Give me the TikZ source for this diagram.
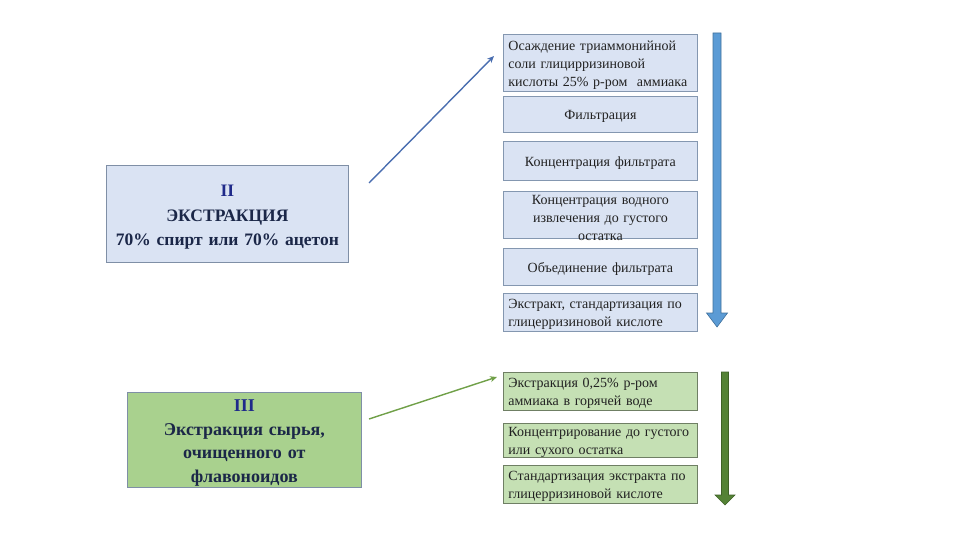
\documentclass[tikz,border=0pt]{standalone}
\usepackage{fontspec}
\setmainfont{Liberation Serif}
\usetikzlibrary{arrows.meta}
\definecolor{fillb}{HTML}{DAE3F3}
\definecolor{bordb}{HTML}{8497B0}
\definecolor{fillg}{HTML}{C5E0B4}
\definecolor{bordg}{HTML}{6F7F64}
\definecolor{fillG}{HTML}{A9D18E}
\definecolor{bordL}{HTML}{7F8FA6}
\definecolor{txt}{HTML}{222222}
\definecolor{navy}{HTML}{1B2748}
\definecolor{roman}{HTML}{1F2A8A}
\definecolor{arrB}{HTML}{5B9BD5}
\definecolor{arrBd}{HTML}{41719C}
\definecolor{arrG}{HTML}{548235}
\definecolor{arrGd}{HTML}{3E6127}
\definecolor{lineB}{HTML}{4A6EB0}
\definecolor{lineG}{HTML}{70A048}
\tikzset{
  stepbox/.style={draw=bordb, fill=fillb, line width=0.8pt, inner xsep=5pt, inner ysep=0pt,
    anchor=north west, text width=184pt, text=txt,
    font=\fontsize{14}{18}\selectfont,
    execute at begin node={\rule{0pt}{14pt}}},
  gbox/.style={stepbox, draw=bordg, fill=fillg},
  lft/.style={align=left},
  ctr/.style={align=center},
  bigbox/.style={line width=0.8pt, inner xsep=1pt, inner ysep=0pt, anchor=north west, align=center,
    text=navy, font=\fontsize{17.5}{24.5}\selectfont\bfseries,
    execute at begin node={\rule{0pt}{18pt}}},
  conn/.style={line width=1.4pt, -{Stealth[length=7pt,width=6pt]}},
  blockarrow/.style={line width=0.6pt}
}
\begin{document}
\begin{tikzpicture}[x=1pt,y=-1pt]
\useasboundingbox (0,0) rectangle (960,540);

% left boxes
\node[bigbox, draw=bordL, fill=fillb, text width=240pt, minimum height=97pt] (ii) at (106,165)
  {{\color{roman}II}\\ЭКСТРАКЦИЯ\\70\% спирт или 70\% ацетон};
\node[bigbox, draw=bordL, fill=fillG, text width=232pt, minimum height=95pt, font=\fontsize{18}{23.5}\selectfont\bfseries] (iii) at (127,392)
  {{\color{roman}III}\\Экстракция сырья,\\очищенного от\\флавоноидов};

% right blue column
\node[stepbox, lft, minimum height=57pt] (b1) at (503,34)
  {Осаждение триаммонийной\\соли глицирризиновой\\кислоты 25\% р-ром\ \ аммиака};
\node[stepbox, ctr, minimum height=36pt] (b2) at (503,96) {Фильтрация};
\node[stepbox, ctr, minimum height=39pt] (b3) at (503,141) {Концентрация фильтрата};
\node[stepbox, ctr, minimum height=47pt] (b4) at (503,191) {};
\node[ctr, text width=184pt, inner sep=0pt, text=txt, font=\fontsize{14}{18}\selectfont] (b4t) at ([yshift=-3pt]b4.center)
  {Концентрация водного\\извлечения до густого\\остатка};
\node[stepbox, ctr, minimum height=37pt] (b5) at (503,248) {Объединение фильтрата};
\node[stepbox, lft, minimum height=38pt] (b6) at (503,293)
  {Экстракт, стандартизация по\\глицерризиновой кислоте};

% right green column
\node[gbox, lft, minimum height=38pt] (g1) at (503,372)
  {Экстракция 0,25\% р-ром\\аммиака в горячей воде};
\node[gbox, lft, minimum height=34pt, inner ysep=-1pt] (g2) at (503,423)
  {Концентрирование до густого\\или сухого остатка};
\node[gbox, lft, minimum height=38pt] (g3) at (503,465)
  {Стандартизация экстракта по\\глицерризиновой кислоте};

% connectors
\coordinate (cbs) at (369,183);
\coordinate (cbe) at (494,56);
\coordinate (cgs) at (369,419);
\coordinate (cge) at (497,377);
\draw[conn, lineB] (cbs) -- (cbe);
\draw[conn, lineG] (cgs) -- (cge);

% block arrows
\draw[blockarrow, draw=arrBd, fill=arrB]
  (713,33) -- (721,33) -- (721,313) -- (727.5,313) -- (717,327) -- (706.5,313) -- (713,313) -- cycle;
\draw[blockarrow, draw=arrGd, fill=arrG]
  (721.5,372) -- (728.5,372) -- (728.5,495) -- (735,495) -- (725,505) -- (715,495) -- (721.5,495) -- cycle;
\end{tikzpicture}
\end{document}
